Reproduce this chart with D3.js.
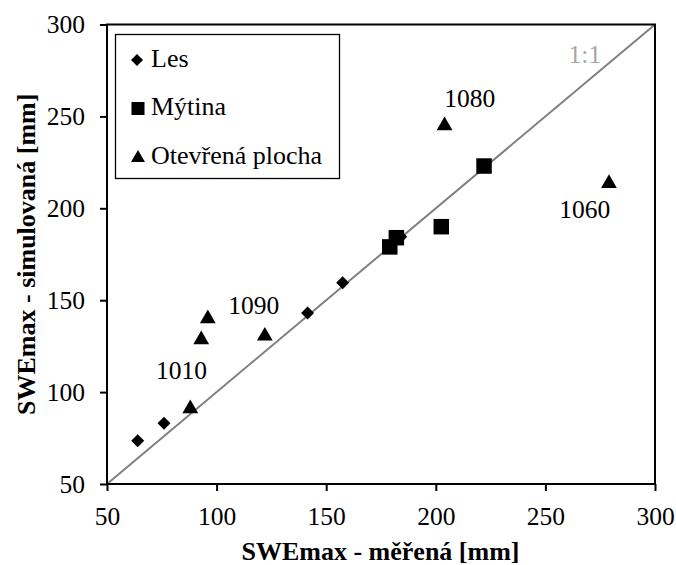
<!DOCTYPE html>
<html>
<head>
<meta charset="utf-8">
<script src="https://cdn.jsdelivr.net/npm/d3@7/dist/d3.min.js"></script>
<style>
  body { margin: 0; background: #fff; }
  svg { display: block; font-family: "Liberation Serif", "Times New Roman", serif; }
</style>
</head>
<body>
<svg id="chart" width="676" height="565"></svg>
<script>
// Measured vs simulated SWEmax by site type
const lesX = [64, 76, 141.5, 157.5, 184];
const lesY = [73.5, 83, 143, 159.5, 184.5];
const mytinaX = [179, 182, 202.5, 222];
const mytinaY = [179, 184, 190, 223];
const otevrenaX = [88, 93, 96, 122, 204, 279];
const otevrenaY = [91, 128.5, 140, 130.5, 245, 213.5];
const stationLabels = ["1010", "1090", "1080", "1060"];
const stationLabelX = [84, 117, 215.5, 268];
const stationLabelY = [111.5, 147, 260, 199.5];
const ticks = [50, 100, 150, 200, 250, 300];
const seriesNames = ["Les", "Mýtina", "Otevřená plocha"];

const svg = d3.select("#chart");
const margin = { left: 107, right: 21, top: 24.5, bottom: 81 };
const W = 676, H = 565;
const FS = 25.5;

const x = d3.scaleLinear().domain([50, 300]).range([margin.left, W - margin.right]);
const y = d3.scaleLinear().domain([50, 300]).range([H - margin.bottom, margin.top]);

// 1:1 line
svg.append("line")
  .attr("x1", x(50)).attr("y1", y(50)).attr("x2", x(300)).attr("y2", y(300))
  .attr("stroke", "#808080").attr("stroke-width", 2);
svg.append("text").attr("x", x(268)).attr("y", y(283.5))
  .attr("text-anchor", "middle").attr("dominant-baseline", "central")
  .attr("fill", "#a6a6a6").attr("font-size", FS).text("1:1");

// axes
const xAxis = d3.axisBottom(x).tickValues(ticks).tickSize(7).tickPadding(16);
const yAxis = d3.axisLeft(y).tickValues(ticks).tickSize(7).tickPadding(15);
const gx = svg.append("g").attr("transform", `translate(0,${y(50)})`).call(xAxis);
const gy = svg.append("g").attr("transform", `translate(${x(50)},0)`).call(yAxis);
[gx, gy].forEach(g => {
  g.select(".domain").remove();
  g.selectAll(".tick line").attr("stroke", "#000").attr("stroke-width", 2);
  g.selectAll(".tick text").attr("font-size", FS).attr("fill", "#000")
    .style("font-family", "Liberation Serif, Times New Roman, serif");
});

// plot frame
svg.append("rect")
  .attr("x", x(50)).attr("y", y(300))
  .attr("width", x(300) - x(50)).attr("height", y(50) - y(300))
  .attr("fill", "none").attr("stroke", "#000").attr("stroke-width", 2);

// markers
const diamond = d3.symbol().type(d3.symbolSquare).size(85);
const square = d3.symbol().type(d3.symbolSquare).size(240);
const triangle = d3.symbol().type(d3.symbolTriangle).size(108);

svg.append("g").selectAll("path").data(d3.zip(lesX, lesY)).join("path")
  .attr("d", diamond)
  .attr("transform", d => `translate(${x(d[0])},${y(d[1])}) rotate(45)`)
  .attr("fill", "#000");
svg.append("g").selectAll("path").data(d3.zip(mytinaX, mytinaY)).join("path")
  .attr("d", square)
  .attr("transform", d => `translate(${x(d[0])},${y(d[1])})`)
  .attr("fill", "#000");
svg.append("g").selectAll("path").data(d3.zip(otevrenaX, otevrenaY)).join("path")
  .attr("d", triangle)
  .attr("transform", d => `translate(${x(d[0])},${y(d[1])})`)
  .attr("fill", "#000");

// station labels
svg.append("g").selectAll("text").data(stationLabels).join("text")
  .attr("x", (d, i) => x(stationLabelX[i]))
  .attr("y", (d, i) => y(stationLabelY[i]))
  .attr("text-anchor", "middle").attr("dominant-baseline", "central")
  .attr("font-size", FS).attr("fill", "#000").text(d => d);

// legend
const lg = svg.append("g");
lg.append("rect").attr("x", 115.5).attr("y", 34.5).attr("width", 224).attr("height", 144)
  .attr("fill", "#fff").attr("stroke", "#000").attr("stroke-width", 1.3);
const legendSyms = [
  d3.symbol().type(d3.symbolSquare).size(72),
  d3.symbol().type(d3.symbolSquare).size(170),
  d3.symbol().type(d3.symbolTriangle).size(85)
];
seriesNames.forEach((name, i) => {
  const cy = 60 + i * 48.5;
  lg.append("path").attr("d", legendSyms[i])
    .attr("transform", `translate(${i === 0 ? 137 : 138},${cy + (i === 2 ? 1 : 0)})${i === 0 ? " rotate(45)" : ""}`)
    .attr("fill", "#000");
  lg.append("text").attr("x", 151).attr("y", cy + 6.5)
    .attr("font-size", 26).attr("fill", "#000").text(name);
});

// axis titles
svg.append("text").attr("x", 380.5).attr("y", 560)
  .attr("text-anchor", "middle").attr("font-size", 26).attr("font-weight", "bold")
  .text("SWEmax - měřená [mm]");
svg.append("text").attr("transform", `translate(35,${y(175)}) rotate(-90)`)
  .attr("text-anchor", "middle").attr("font-size", 26).attr("font-weight", "bold")
  .text("SWEmax - simulovaná [mm]");
</script>
</body>
</html>
